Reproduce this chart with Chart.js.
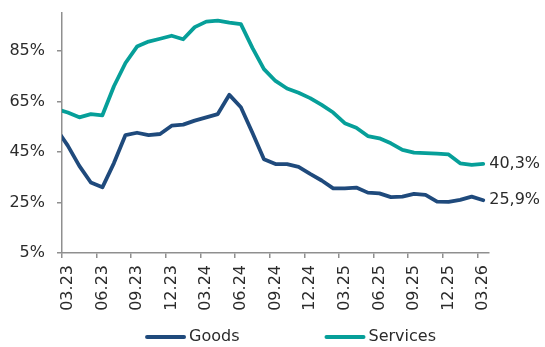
<!DOCTYPE html>
<html>
<head>
<meta charset="utf-8">
<script src="https://cdn.jsdelivr.net/npm/chart.js@4"></script>
<style>
  html, body { margin: 0; padding: 0; background: #fff; }
  #wrap { width: 545px; height: 347px; }
</style>
</head>
<body>
<div id="wrap"><canvas id="myChart"></canvas></div>
<script>
// first label is only there so the line comes in from the y axis (it sits left of the visible range)
const months = ['02.23', '03.23', '04.23', '05.23', '06.23', '07.23', '08.23', '09.23', '10.23', '11.23', '12.23',
  '01.24', '02.24', '03.24', '04.24', '05.24', '06.24', '07.24', '08.24', '09.24', '10.24', '11.24', '12.24',
  '01.25', '02.25', '03.25', '04.25', '05.25', '06.25', '07.25', '08.25', '09.25', '10.25', '11.25', '12.25',
  '01.26', '02.26', '03.26'];
const goods = [54.3, 47.5, 39.5, 32.9, 31.0, 40.6, 51.7, 52.6, 51.7, 52.1, 55.4, 55.8, 57.4, 58.7, 60.0, 67.6, 62.7,
  52.6, 42.1, 40.2, 40.2, 39.1, 36.3, 33.7, 30.6, 30.6, 30.9, 28.9, 28.6, 27.1, 27.3, 28.4, 28.0, 25.3, 25.2, 26.0, 27.3, 25.9];
const services = [62.0, 60.6, 58.7, 60.0, 59.5, 71.0, 80.2, 86.7, 88.7, 89.8, 91.0, 89.6, 94.4, 96.6, 97.0, 96.2, 95.6,
  86.2, 77.8, 73.1, 70.1, 68.4, 66.3, 63.6, 60.6, 56.4, 54.6, 51.3, 50.4, 48.4, 45.8, 44.7, 44.5, 44.3, 44.0, 40.5, 39.9, 40.3];
const yTicks = [5, 25, 45, 65, 85];
const quarterMonths = ['03', '06', '09', '12'];

const axisGrey = '#8f8f8f';
const textColor = '#2b2b2b';

Chart.defaults.font.family = 'DejaVu Sans';
Chart.defaults.font.size = 16;
Chart.defaults.color = textColor;

function isQuarter(label) {
  return quarterMonths.includes(label.slice(0, 2));
}

// values written next to the last point of each line
const endLabels = {
  id: 'endLabels',
  afterDatasetsDraw(chart) {
    const ctx = chart.ctx;
    ctx.save();
    ctx.font = '16px "DejaVu Sans"';
    ctx.fillStyle = textColor;
    ctx.textBaseline = 'middle';
    ctx.textAlign = 'left';
    chart.data.datasets.forEach((ds, i) => {
      const pts = chart.getDatasetMeta(i).data;
      const last = pts[pts.length - 1];
      const v = ds.data[ds.data.length - 1];
      ctx.fillText(v.toFixed(1).replace('.', ',') + '%', last.x + 6, last.y);
    });
    ctx.restore();
  }
};

// legend with line swatches, row centred a bit right of the plot
const lineLegend = {
  id: 'lineLegend',
  afterDraw(chart) {
    const ctx = chart.ctx;
    const area = chart.chartArea;
    const lineLen = 41, gap = 3, itemGap = 85;
    ctx.save();
    ctx.font = '16px "DejaVu Sans"';
    const widths = chart.data.datasets.map(ds => lineLen + gap + ctx.measureText(ds.label).width);
    const total = widths.reduce((a, b) => a + b, 0) + itemGap * (widths.length - 1);
    let x = (area.left + area.right) / 2 + 15 - total / 2;
    const y = chart.height - 10;
    chart.data.datasets.forEach((ds, i) => {
      ctx.strokeStyle = ds.borderColor;
      ctx.lineWidth = 4;
      ctx.lineCap = 'round';
      ctx.beginPath();
      ctx.moveTo(x + 2, y);
      ctx.lineTo(x + lineLen - 2, y);
      ctx.stroke();
      ctx.fillStyle = textColor;
      ctx.textBaseline = 'middle';
      ctx.fillText(ds.label, x + lineLen + gap, y);
      x += widths[i] + itemGap;
    });
    ctx.restore();
  }
};

const myChart = new Chart(document.getElementById('myChart'), {
  type: 'line',
  data: {
    labels: months,
    datasets: [
      {
        label: 'Goods',
        data: goods,
        borderColor: '#1f4a7c',
        backgroundColor: '#1f4a7c',
        borderWidth: 3.8,
        pointRadius: 0,
        tension: 0,
        borderJoinStyle: 'round',
        borderCapStyle: 'round'
      },
      {
        label: 'Services',
        data: services,
        borderColor: '#069f99',
        backgroundColor: '#069f99',
        borderWidth: 3.8,
        pointRadius: 0,
        tension: 0,
        borderJoinStyle: 'round',
        borderCapStyle: 'round'
      }
    ]
  },
  options: {
    responsive: true,
    maintainAspectRatio: false,
    animation: false,
    layout: {
      padding: { left: 9, right: 56, top: 13, bottom: 33 }
    },
    plugins: {
      legend: { display: false },
      tooltip: { enabled: false }
    },
    scales: {
      x: {
        min: '03.23',
        offset: true,
        clip: false,
        afterFit: (scale) => { scale.height = 61; },
        border: { display: true, color: axisGrey, width: 1.5 },
        grid: {
          offset: true,
          drawOnChartArea: false,
          drawTicks: true,
          tickLength: 5,
          lineWidth: 1.5,
          color: (c) => (c.tick && isQuarter(months[c.tick.value])) ? axisGrey : 'rgba(0,0,0,0)'
        },
        ticks: {
          autoSkip: false,
          minRotation: 90,
          maxRotation: 90,
          padding: 7,
          callback: function (value) {
            const lab = this.getLabelForValue(value);
            return isQuarter(lab) ? lab : '';
          }
        }
      },
      y: {
        min: 5,
        max: 100,
        afterFit: (scale) => {
          scale.width = 53;
          scale.paddingTop = 0;
          scale.paddingBottom = 0;
        },
        border: { display: true, color: axisGrey, width: 1.5 },
        grid: {
          drawOnChartArea: false,
          drawTicks: true,
          tickLength: 5,
          lineWidth: 1.5,
          color: axisGrey
        },
        afterBuildTicks: (scale) => {
          scale.ticks = yTicks.map(v => ({ value: v }));
        },
        ticks: {
          padding: 12,
          callback: (v) => v + '%'
        }
      }
    }
  },
  plugins: [endLabels, lineLegend]
});
</script>
</body>
</html>
